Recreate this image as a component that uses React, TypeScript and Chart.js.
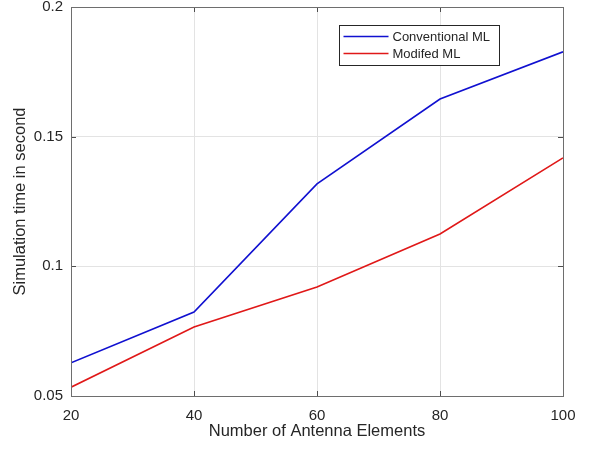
import React, { useEffect, useRef } from "react";
import { Chart, registerables } from "chart.js";

Chart.register(...registerables);

const antennaElements = [20, 40, 60, 80, 100];
const conventionalML = [0.0628, 0.0824, 0.1318, 0.1645, 0.1827];
const modifiedML = [0.0534, 0.0766, 0.092, 0.1125, 0.1418];
const seriesNames = ["Conventional ML", "Modifed ML"];
const seriesColors = ["#1010d0", "#e01818"];

const FONT = "'Liberation Sans', Arial, sans-serif";

const framePlugin = {
  id: "frame",
  afterDatasetsDraw(chart: any) {
    const { ctx, chartArea: a, scales } = chart;
    ctx.save();
    ctx.strokeStyle = "#4d4d4d";
    ctx.lineWidth = 1;
    const xs = scales.x, ys = scales.y;
    xs.ticks.forEach((t: any) => {
      const px = Math.round(xs.getPixelForValue(t.value)) + 0.5;
      ctx.beginPath();
      ctx.moveTo(px, a.bottom);
      ctx.lineTo(px, a.bottom - 5);
      ctx.moveTo(px, a.top);
      ctx.lineTo(px, a.top + 5);
      ctx.stroke();
    });
    ys.ticks.forEach((t: any) => {
      const py = Math.round(ys.getPixelForValue(t.value)) + 0.5;
      ctx.beginPath();
      ctx.moveTo(a.left, py);
      ctx.lineTo(a.left + 5, py);
      ctx.moveTo(a.right, py);
      ctx.lineTo(a.right - 5, py);
      ctx.stroke();
    });
    ctx.strokeStyle = "#6e6e6e";
    ctx.strokeRect(Math.round(a.left) + 0.5, Math.round(a.top) + 0.5, Math.round(a.right - a.left), Math.round(a.bottom - a.top));
    // legend
    const lx = 339.5, ly = 25.5, lw = 160, lh = 40;
    ctx.fillStyle = "#ffffff";
    ctx.fillRect(lx, ly, lw, lh);
    ctx.strokeStyle = "#262626";
    ctx.lineWidth = 1;
    ctx.strokeRect(lx, ly, lw, lh);
    ctx.font = `13px ${FONT}`;
    ctx.textBaseline = "middle";
    seriesNames.forEach((name, i) => {
      const y = ly + 11 + i * 17;
      ctx.strokeStyle = seriesColors[i];
      ctx.lineWidth = 1.5;
      ctx.beginPath();
      ctx.moveTo(lx + 4, y);
      ctx.lineTo(lx + 49, y);
      ctx.stroke();
      ctx.fillStyle = "#262626";
      ctx.fillText(name, lx + 53, y + 1);
    });
    ctx.restore();
  },
};

export default function App() {
  const ref = useRef<HTMLCanvasElement>(null);
  useEffect(() => {
    document.body.style.margin = "0";
    const chart = new Chart(ref.current!, {
      type: "line",
      data: {
        datasets: [
          {
            label: seriesNames[0],
            data: antennaElements.map((x, i) => ({ x, y: conventionalML[i] })),
            borderColor: seriesColors[0],
            borderWidth: 1.6,
            pointRadius: 0,
            tension: 0,
          },
          {
            label: seriesNames[1],
            data: antennaElements.map((x, i) => ({ x, y: modifiedML[i] })),
            borderColor: seriesColors[1],
            borderWidth: 1.6,
            pointRadius: 0,
            tension: 0,
          },
        ],
      },
      options: {
        animation: false,
        responsive: false,
        layout: { padding: { top: 7, right: 35, left: 0, bottom: 0 } },
        plugins: { legend: { display: false }, tooltip: { enabled: false } },
        scales: {
          x: {
            type: "linear",
            min: 20,
            max: 100,
            ticks: { stepSize: 20, color: "#262626", font: { family: FONT, size: 15 }, padding: 11, maxRotation: 0 },
            grid: { color: "#e3e3e3", drawTicks: false },
            border: { display: false },
            title: { display: true, text: "Number of Antenna Elements", color: "#262626", font: { family: FONT, size: 16.5 }, padding: { top: 0, bottom: 9 } },
            afterFit: (s: any) => { s.height = 54; s.paddingLeft = 0; s.paddingRight = 0; },
          },
          y: {
            min: 0.05,
            max: 0.2,
            ticks: {
              stepSize: 0.05,
              color: "#262626",
              font: { family: FONT, size: 15 },
              padding: 8,
              callback: (v: any) => String(+Number(v).toFixed(2)),
            },
            grid: { color: "#e3e3e3", drawTicks: false },
            border: { display: false },
            title: { display: true, text: "Simulation time in second", color: "#262626", font: { family: FONT, size: 16.5 }, padding: { top: 11, bottom: 0 } },
            afterFit: (s: any) => { s.width = 71; s.paddingTop = 0; s.paddingBottom = 0; },
          },
        },
      },
      plugins: [framePlugin],
    });
    return () => chart.destroy();
  }, []);
  return (
    <div style={{ width: 598, height: 450 }}>
      <canvas ref={ref} width={598} height={450} />
    </div>
  );
}
